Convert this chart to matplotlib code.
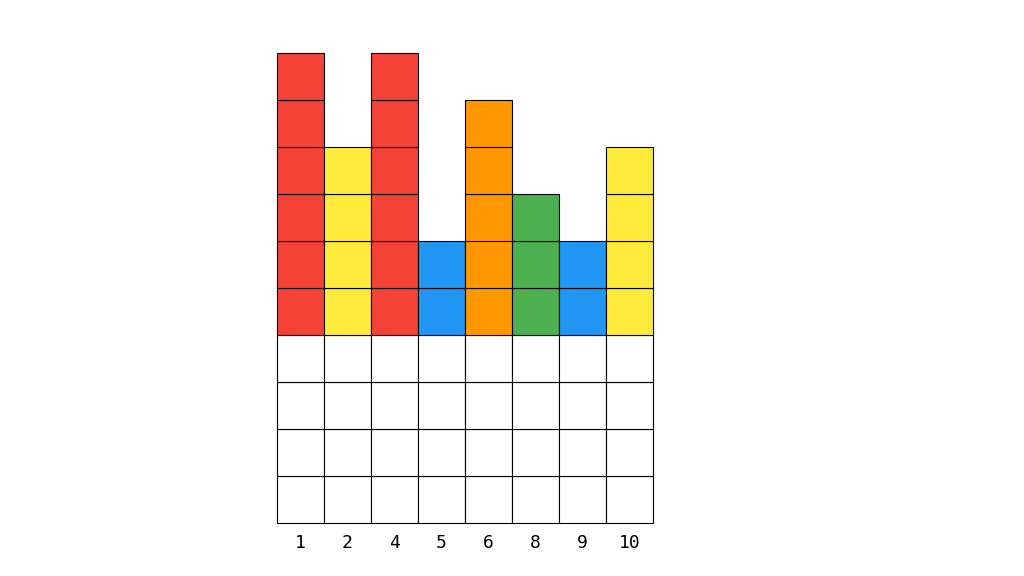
import matplotlib
matplotlib.use('Agg')
import matplotlib.pyplot as plt

labels = ['1', '2', '4', '5', '6', '8', '9', '10']
base_cells = [4, 4, 4, 4, 4, 4, 4, 4]
stack_cells = [6, 4, 6, 2, 5, 3, 2, 4]
colors = ['#F44336', '#FFEB3B', '#F44336', '#2196F3',
          '#FF9800', '#4CAF50', '#2196F3', '#FFEB3B']

fig = plt.figure(figsize=(10.24, 5.76), dpi=100)
ax = fig.add_axes([277 / 1024, 53 / 576, 376 / 1024, 470 / 576])

for i in range(len(labels)):
    # white base cells, then the coloured ones on top
    for j in range(base_cells[i]):
        ax.bar(i, 1, bottom=j, width=1, color='white', edgecolor='black',
               linewidth=0.8, clip_on=False)
    for j in range(stack_cells[i]):
        ax.bar(i, 1, bottom=base_cells[i] + j, width=1, color=colors[i],
               edgecolor='black', linewidth=0.8, clip_on=False)

ax.set_xlim(-0.5, len(labels) - 0.5)
ax.set_ylim(0, 10)
ax.set_xticks(range(len(labels)))
ax.set_xticklabels(labels, family='DejaVu Sans Mono', fontsize=13)
ax.tick_params(axis='x', length=0, pad=8)
ax.set_yticks([])
for s in ax.spines.values():
    s.set_visible(False)

fig.savefig('out.png', dpi=100)
